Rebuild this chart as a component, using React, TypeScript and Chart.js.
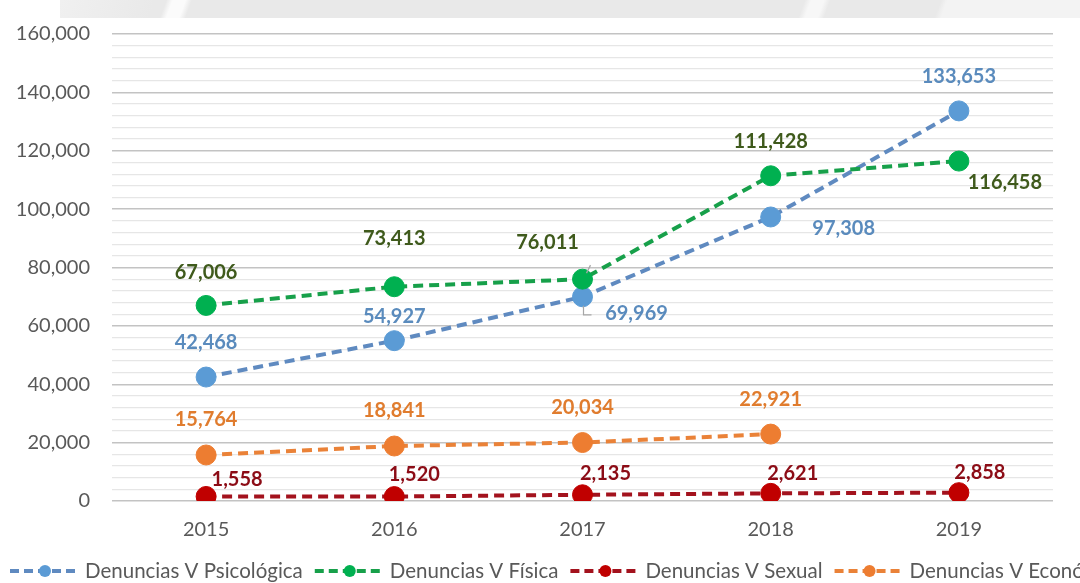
import React, { useEffect, useRef } from "react";
import { Chart, registerables } from "chart.js";

Chart.register(...registerables);

const years = ["2015", "2016", "2017", "2018", "2019"];
const psicologica = [42468, 54927, 69969, 97308, 133653];
const fisica = [67006, 73413, 76011, 111428, 116458];
const sexual = [1558, 1520, 2135, 2621, 2858];
const economica = [15764, 18841, 20034, 22921];
const seriesNames = [
  "Denuncias V Psicológica",
  "Denuncias V Física",
  "Denuncias V Sexual",
  "Denuncias V Económica",
];

const FONT = "Lato, 'Open Sans', sans-serif";

// label offsets (style/placement only)
const labelOffsets: Record<string, [number, number][]> = {
  psi: [[0, -34], [0, -24], [54, 17], [73, 12], [0, -34]],
  fis: [[0, -33], [0, -48], [-35, -37], [0, -34], [46, 21]],
  sex: [[31, -17], [20, -22], [23, -21], [22, -20], [21, -20]],
  eco: [[0, -35], [0, -35], [0, -35], [0, -35]],
};

const styles = {
  psi: { line: "#5f8ac0", point: "#5b9bd5", label: "#5a8bbd" },
  fis: { line: "#17a04a", point: "#00b050", label: "#3f5a1c" },
  sex: { line: "#a3121d", point: "#c00000", label: "#8c0c16" },
  eco: { line: "#ea8238", point: "#ed7d31", label: "#e07c2e" },
};

const keys = ["psi", "fis", "sex", "eco"] as const;

export default function App() {
  const ref = useRef<HTMLCanvasElement>(null);

  useEffect(() => {
    if (!ref.current) return;
    const dataArrays = [psicologica, fisica, sexual, economica];

    const labelPlugin = {
      id: "valueLabels",
      afterDatasetsDraw(chart: any) {
        const ctx = chart.ctx;
        ctx.save();
        // leader lines
        const mBlue = chart.getDatasetMeta(0).data[2];
        const mGreen = chart.getDatasetMeta(1).data[2];
        ctx.strokeStyle = "#a6a6a6";
        ctx.lineWidth = 1.2;
        ctx.beginPath();
        ctx.moveTo(mBlue.x + 1, mBlue.y + 9);
        ctx.lineTo(mBlue.x + 1, mBlue.y + 18);
        ctx.lineTo(mBlue.x + 9, mBlue.y + 18);
        ctx.stroke();
        ctx.beginPath();
        ctx.moveTo(mGreen.x + 8, mGreen.y - 14);
        ctx.lineTo(mGreen.x + 4, mGreen.y - 6);
        ctx.stroke();

        ctx.font = `bold 20px ${FONT}`;
        ctx.textAlign = "center";
        ctx.textBaseline = "middle";
        keys.forEach((k, i) => {
          const meta = chart.getDatasetMeta(i);
          meta.data.forEach((el: any, j: number) => {
            const [dx, dy] = labelOffsets[k][j];
            ctx.fillStyle = styles[k].label;
            ctx.fillText(dataArrays[i][j].toLocaleString("en-US"), el.x + dx, el.y + dy);
          });
        });
        ctx.restore();
      },
    };

    const legendPlugin = {
      id: "customLegend",
      afterDraw(chart: any) {
        const ctx = chart.ctx;
        ctx.save();
        ctx.font = `20.5px ${FONT}`;
        ctx.textBaseline = "middle";
        ctx.textAlign = "left";
        const y = 571;
        let x = 10;
        keys.forEach((k, i) => {
          ctx.strokeStyle = styles[k].line;
          ctx.lineWidth = 4;
          ctx.setLineDash([9, 5]);
          ctx.beginPath();
          ctx.moveTo(x, y);
          ctx.lineTo(x + 70, y);
          ctx.stroke();
          ctx.setLineDash([]);
          ctx.fillStyle = styles[k].point;
          ctx.beginPath();
          ctx.arc(x + 35, y, 6, 0, Math.PI * 2);
          ctx.fill();
          ctx.fillStyle = "#595959";
          const t = seriesNames[i];
          ctx.fillText(t, x + 75, y);
          x += 75 + ctx.measureText(t).width + 12;
        });
        ctx.restore();
      },
    };

    const mk = (k: (typeof keys)[number], label: string, data: number[], order: number) => ({
      label,
      data,
      order,
      borderColor: styles[k].line,
      backgroundColor: styles[k].point,
      pointBackgroundColor: styles[k].point,
      pointBorderColor: styles[k].point,
      pointRadius: 10,
      pointBorderWidth: 1,
      borderWidth: 4,
      borderDash: [10, 6],
      tension: 0,
    });

    const chart = new Chart(ref.current, {
      type: "line",
      data: {
        labels: years,
        datasets: [
          mk("psi", seriesNames[0], psicologica, 1),
          mk("fis", seriesNames[1], fisica, 0),
          mk("sex", seriesNames[2], sexual, 2),
          mk("eco", seriesNames[3], economica, 3),
        ],
      },
      options: {
        animation: false,
        responsive: false,
        maintainAspectRatio: false,
        layout: { padding: { top: 27, right: 27, bottom: 0, left: 0 } },
        plugins: { legend: { display: false }, tooltip: { enabled: false } },
        scales: {
          x: {
            offset: true,
            grid: { display: false, drawTicks: false },
            border: { display: false },
            ticks: { color: "#595959", font: { family: FONT, size: 20 }, padding: 17 },
            afterFit: (s: any) => {
              s.height = 82;
            },
          },
          y: {
            min: 0,
            max: 160000,
            grid: {
              drawTicks: false,
              color: (c: any) =>
                c.tick && c.tick.value % 20000 === 0 ? "#c3c3c3" : "#e6e6e6",
              lineWidth: (c: any) => (c.tick && c.tick.value % 20000 === 0 ? 1.5 : 1.2),
            },
            border: { display: false },
            ticks: {
              stepSize: 4000,
              autoSkip: false,
              color: "#595959",
              font: { family: FONT, size: 20 },
              padding: 22,
              callback: (v: any) => (v % 20000 === 0 ? Number(v).toLocaleString("en-US") : ""),
            },
            afterFit: (s: any) => {
              s.width = 112;
            },
          },
        },
      },
      plugins: [labelPlugin, legendPlugin],
    });
    return () => chart.destroy();
  }, []);

  return (
    <div style={{ position: "fixed", left: 0, top: 0, width: 1080, height: 583, background: "#fff", overflow: "hidden" }}>
      <div
        style={{
          position: "absolute",
          left: 60,
          top: 0,
          width: 1020,
          height: 18,
          background:
            "linear-gradient(110deg, #f0f0f0 0px, #e9e9e9 90px, #e9e9e9 100px, #fbfbfb 106px, #fbfbfb 118px, #e9e9e9 124px, #e9e9e9 700px, #f7f7f7 706px, #f7f7f7 718px, #e9e9e9 724px, #e9e9e9 828px, #f3f3f3 834px, #f3f3f3 100%)",
        }}
      />
      <canvas ref={ref} width={1080} height={583} style={{ position: "absolute", left: 0, top: 0 }} />
    </div>
  );
}
